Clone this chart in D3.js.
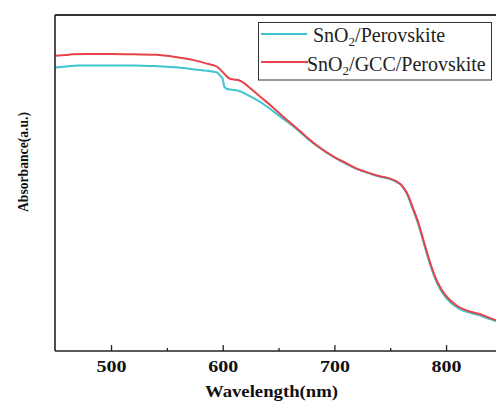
<!DOCTYPE html>
<html>
<head>
<meta charset="utf-8">
<script src="https://cdn.jsdelivr.net/npm/d3@7"></script>
<style>
  html, body { margin: 0; padding: 0; background: #fff; }
  svg { display: block; }
  text { font-family: "Liberation Serif", "Times New Roman", serif; }
</style>
</head>
<body>
<svg id="chart" width="496" height="405"></svg>
<script>
// ---- data ----
const seriesNames = ["SnO2/Perovskite", "SnO2/GCC/Perovskite"];
const wlSnO2 = [450, 460, 470, 480, 500, 520, 540, 560, 575, 590, 595, 598, 600, 601.5, 604, 610, 615, 620, 625, 635, 645, 655, 665, 675, 685, 700, 710, 720, 730, 740, 750, 755, 760, 765, 770, 775, 780, 785, 790, 795, 800, 810, 820, 830, 840, 850];
const absSnO2 = [0.844, 0.847, 0.850, 0.850, 0.850, 0.850, 0.848, 0.844, 0.838, 0.832, 0.829, 0.818, 0.810, 0.786, 0.780, 0.777, 0.774, 0.766, 0.757, 0.738, 0.714, 0.689, 0.664, 0.635, 0.609, 0.576, 0.558, 0.542, 0.530, 0.519, 0.512, 0.504, 0.493, 0.467, 0.424, 0.378, 0.321, 0.265, 0.217, 0.182, 0.158, 0.129, 0.115, 0.106, 0.094, 0.083];
const wlGCC = [450, 460, 465, 480, 500, 520, 540, 560, 575, 585, 595, 600, 606, 610, 615, 620, 625, 635, 645, 655, 665, 675, 685, 700, 710, 720, 730, 740, 750, 755, 760, 765, 770, 775, 780, 785, 790, 795, 800, 810, 820, 830, 840, 850];
const absGCC = [0.879, 0.881, 0.883, 0.884, 0.884, 0.883, 0.882, 0.874, 0.865, 0.856, 0.846, 0.830, 0.811, 0.808, 0.805, 0.795, 0.781, 0.753, 0.725, 0.695, 0.667, 0.637, 0.610, 0.577, 0.560, 0.543, 0.531, 0.521, 0.513, 0.506, 0.494, 0.470, 0.429, 0.384, 0.327, 0.271, 0.223, 0.188, 0.164, 0.134, 0.119, 0.110, 0.097, 0.086];
const majorTicks = [500, 600, 700, 800];
const minorTicks = [550, 650, 750];
const xTitle = "Wavelength(nm)";
const yTitle = "Absorbance(a.u.)";

// ---- chart ----
const svg = d3.select("#chart");
const W = 496, H = 405;
const mLeft = 55, mTop = 15, mBottom = 351;
const x = d3.scaleLinear().domain([450, 850]).range([55.2, 501.9]);
const y = d3.scaleLinear().domain([0, 1]).range([mBottom, mTop]);

svg.append("defs").append("clipPath").attr("id", "plotclip")
  .append("rect").attr("x", mLeft).attr("y", mTop).attr("width", W - mLeft).attr("height", mBottom - mTop);

const colors = ["#3ec6cf", "#e8434c"];
const line = d3.line().x(d => x(d[0])).y(d => y(d[1])).curve(d3.curveMonotoneX);

const dataSets = [
  d3.zip(wlSnO2, absSnO2),
  d3.zip(wlGCC, absGCC)
];

const g = svg.append("g").attr("clip-path", "url(#plotclip)");
dataSets.forEach((ds, i) => {
  g.append("path").datum(ds)
    .attr("fill", "none")
    .attr("stroke", colors[i])
    .attr("stroke-width", 2)
    .attr("stroke-linejoin", "round")
    .attr("d", line);
});

// frame: top and left
svg.append("line").attr("x1", mLeft).attr("x2", W).attr("y1", mTop).attr("y2", mTop)
  .attr("stroke", "#333").attr("stroke-width", 2);
svg.append("line").attr("x1", mLeft).attr("x2", mLeft).attr("y1", mTop).attr("y2", mBottom)
  .attr("stroke", "#222").attr("stroke-width", 1.6);

// x axis
const xAxis = svg.append("g").attr("transform", `translate(0,${mBottom})`)
  .call(d3.axisBottom(x).tickValues(majorTicks).tickSizeInner(-6).tickSizeOuter(0).tickFormat(d3.format("d")));
xAxis.select(".domain").attr("stroke", "#222").attr("stroke-width", 1.6)
  .attr("d", `M${mLeft},0H${W}`);
xAxis.selectAll(".tick line").attr("stroke", "#222").attr("stroke-width", 1.3);
xAxis.selectAll(".tick text")
  .attr("y", 20.5).attr("dy", 0)
  .attr("fill", "#111")
  .style("font-size", "16px").style("font-weight", "bold")
  .attr("textLength", 30).attr("lengthAdjust", "spacingAndGlyphs");

const xMinor = svg.append("g").attr("transform", `translate(0,${mBottom})`)
  .call(d3.axisBottom(x).tickValues(minorTicks).tickSizeInner(-3).tickSizeOuter(0).tickFormat(""));
xMinor.select(".domain").remove();
xMinor.selectAll(".tick line").attr("stroke", "#222").attr("stroke-width", 1.3);

// titles
svg.append("text").attr("x", 271.5).attr("y", 396.5).attr("text-anchor", "middle")
  .style("font-size", "16px").style("font-weight", "bold").attr("fill", "#111")
  .attr("textLength", 133).attr("lengthAdjust", "spacingAndGlyphs")
  .text(xTitle);
svg.append("text").attr("transform", "translate(27.5,162) rotate(-90)").attr("text-anchor", "middle")
  .style("font-size", "15px").style("font-weight", "bold").attr("fill", "#111")
  .attr("textLength", 100).attr("lengthAdjust", "spacingAndGlyphs")
  .text(yTitle);

// legend
const lg = svg.append("g");
lg.append("rect").attr("x", 258.5).attr("y", 22.5).attr("width", 233).attr("height", 57.5)
  .attr("fill", "#fff").attr("stroke", "#333").attr("stroke-width", 1);
const legendItems = [
  { name: seriesNames[0], color: colors[0], ly: 34, lx1: 261, lx2: 307, tx: 313, ty: 42 },
  { name: seriesNames[1], color: colors[1], ly: 62, lx1: 261, lx2: 308, tx: 307, ty: 70.5 }
];
legendItems.forEach(it => {
  lg.append("line").attr("x1", it.lx1).attr("x2", it.lx2).attr("y1", it.ly).attr("y2", it.ly)
    .attr("stroke", it.color).attr("stroke-width", 2);
  const parts = it.name.split("2");
  const t = lg.append("text").attr("x", it.tx).attr("y", it.ty)
    .style("font-size", "20px").attr("fill", "#222");
  t.append("tspan").text(parts[0]);
  t.append("tspan").attr("dy", 4).style("font-size", "13px").text("2");
  t.append("tspan").attr("dy", -4).text(parts[1]);
});
</script>
</body>
</html>
